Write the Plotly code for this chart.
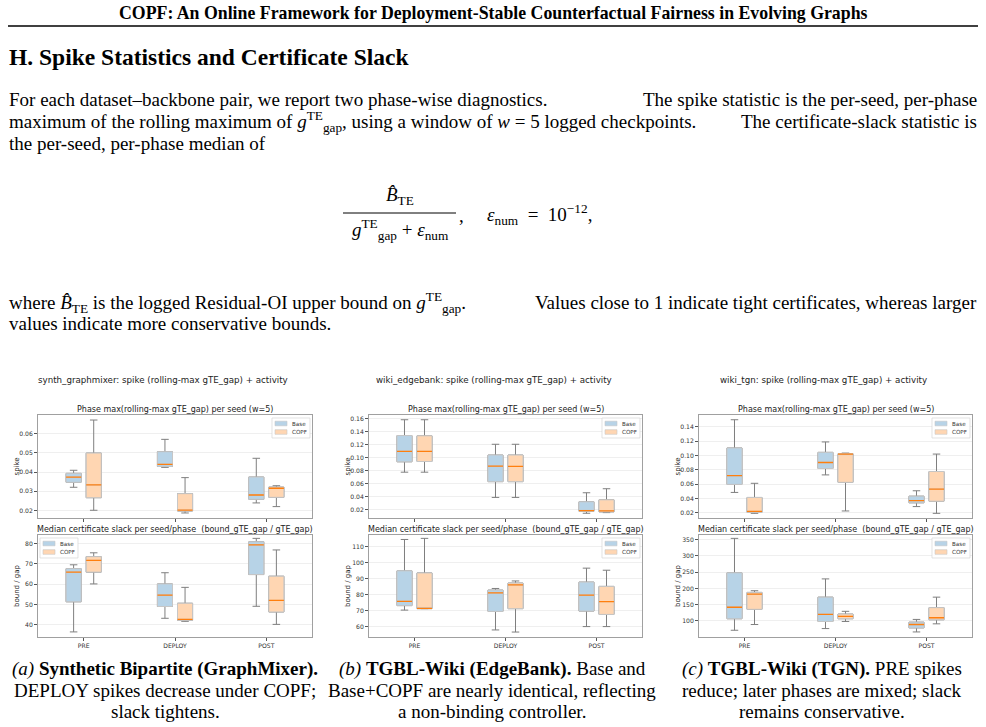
import plotly.graph_objects as go

W, H = 986, 727
SERIF = "Liberation Serif"
SANS = "DejaVu Sans"

# ---------------- data ----------------
PHASES = ["PRE", "DEPLOY", "POST"]
SERIES = ["Base", "COPF"]
PANEL_NAMES = ["synth_graphmixer", "wiki_edgebank", "wiki_tgn"]

# five-number summaries per phase: [low whisker, q1, median, q3, high whisker]
GM_SPIKE_BASE = [[0.0321, 0.0347, 0.0374, 0.0393, 0.0409],
                 [0.0424, 0.0429, 0.0440, 0.0505, 0.0569],
                 [0.0240, 0.0259, 0.0281, 0.0374, 0.0471]]
GM_SPIKE_COPF = [[0.0202, 0.0267, 0.0333, 0.0498, 0.0669],
                 [0.0188, 0.0198, 0.0203, 0.0288, 0.0371],
                 [0.0221, 0.0269, 0.0316, 0.0322, 0.0329]]
GM_SLACK_BASE = [[36.5, 51.3, 65.9, 67.6, 69.5],
                 [43.2, 49.0, 54.6, 60.1, 65.6],
                 [49.1, 64.7, 79.3, 80.8, 82.5]]
GM_SLACK_COPF = [[60.1, 65.9, 71.7, 73.5, 75.4],
                 [41.7, 42.2, 42.7, 50.6, 58.4],
                 [40.2, 46.3, 52.0, 63.9, 76.8]]

EB_SPIKE_BASE = [[0.0776, 0.0936, 0.1097, 0.1340, 0.1584],
                 [0.0387, 0.0630, 0.0869, 0.1040, 0.1206],
                 [0.0143, 0.0174, 0.0184, 0.0319, 0.0459]]
EB_SPIKE_COPF = [[0.0776, 0.0941, 0.1097, 0.1336, 0.1584],
                 [0.0387, 0.0630, 0.0864, 0.1040, 0.1206],
                 [0.0153, 0.0164, 0.0179, 0.0350, 0.0521]]
EB_SLACK_BASE = [[70.3, 73.1, 75.8, 94.8, 114.4],
                 [57.9, 69.5, 81.1, 82.8, 83.8],
                 [60.0, 69.7, 79.6, 87.8, 96.5]]
EB_SLACK_COPF = [[71.2, 71.2, 71.4, 93.5, 115.1],
                 [56.6, 71.2, 86.0, 87.2, 88.5],
                 [60.0, 67.6, 75.6, 85.1, 95.2]]

TG_SPIKE_BASE = [[0.0486, 0.0598, 0.0720, 0.1105, 0.1498],
                 [0.0730, 0.0819, 0.0903, 0.1044, 0.1189],
                 [0.0289, 0.0341, 0.0373, 0.0434, 0.0509]]
TG_SPIKE_COPF = [[0.0195, 0.0209, 0.0223, 0.0416, 0.0613],
                 [0.0228, 0.0627, 0.1020, 0.1025, 0.1034],
                 [0.0195, 0.0364, 0.0533, 0.0777, 0.1020]]
TG_SLACK_BASE = [[70.8, 106.3, 141.7, 247.9, 354.2],
                 [76.0, 97.9, 119.8, 172.9, 229.2],
                 [65.6, 78.1, 88.5, 95.8, 104.2]]
TG_SLACK_COPF = [[88.5, 135.4, 182.3, 187.5, 192.7],
                 [97.9, 106.3, 113.5, 120.8, 129.2],
                 [90.6, 103.1, 109.4, 140.6, 172.9]]

SPIKE_TICKS = [[0.02, 0.03, 0.04, 0.05, 0.06],
               [0.02, 0.04, 0.06, 0.08, 0.10, 0.12, 0.14, 0.16],
               [0.02, 0.04, 0.06, 0.08, 0.10, 0.12, 0.14]]
SLACK_TICKS = [[40, 50, 60, 70, 80],
               [60, 70, 80, 90, 100, 110],
               [100, 150, 200, 250, 300, 350]]
SPIKE_RANGE = [[0.0162, 0.0695], [0.0070, 0.1657], [0.0130, 0.1564]]
SLACK_RANGE = [[34.0, 84.15], [53.5, 117.2], [50.0, 364.6]]

SPIKE_DATA = [(GM_SPIKE_BASE, GM_SPIKE_COPF), (EB_SPIKE_BASE, EB_SPIKE_COPF), (TG_SPIKE_BASE, TG_SPIKE_COPF)]
SLACK_DATA = [(GM_SLACK_BASE, GM_SLACK_COPF), (EB_SLACK_BASE, EB_SLACK_COPF), (TG_SLACK_BASE, TG_SLACK_COPF)]

# ---------------- style ----------------
FILLS = {"Base": "#b7d3e7", "COPF": "#ffd6b2"}
EDGE = "#c7c7c7"
WHISK = "#7f7f7f"
MED = "#ff7f0e"
PANEL_X = [(38, 312), (369, 642), (699, 972)]
ROW_Y = [(415, 518), (535, 637)]


def px(x):
    return x / W


def py(y):
    return 1 - y / H


fig = go.Figure()
layout = dict(width=W, height=H, margin=dict(l=0, r=0, t=0, b=0),
              paper_bgcolor="white", plot_bgcolor="white", showlegend=False,
              boxmode="group", boxgap=0.56, boxgroupgap=0.25,
              annotations=[], shapes=[])
anns = layout["annotations"]
shapes = layout["shapes"]


def ann(text, x, y, size, xanchor="left", family=SERIF, color="black", angle=0, yanchor="middle"):
    anns.append(dict(text=text, x=px(x), y=py(y), xref="paper", yref="paper",
                     xanchor=xanchor, yanchor=yanchor, align=xanchor, showarrow=False,
                     textangle=angle, borderpad=0,
                     font=dict(size=size, family=family, color=color)))


def rect(x0, y0, x1, y1, fill, line, lw):
    shapes.append(dict(type="rect", xref="paper", yref="paper",
                       x0=px(x0), x1=px(x1), y0=py(y1), y1=py(y0),
                       fillcolor=fill, line=dict(color=line, width=lw), layer="above"))


n = 0
for p in range(3):
    x0, x1 = PANEL_X[p]
    for r in range(2):
        n += 1
        xa = "x" if n == 1 else f"x{n}"
        ya = "y" if n == 1 else f"y{n}"
        data = SPIKE_DATA[p] if r == 0 else SLACK_DATA[p]
        for s, name in enumerate(SERIES):
            stats = data[s]
            lo = [v[0] for v in stats]
            q1 = [v[1] for v in stats]
            med = [v[2] for v in stats]
            q3 = [v[3] for v in stats]
            hi = [v[4] for v in stats]
            common = dict(x=PHASES, xaxis=xa, yaxis=ya, offsetgroup=name, name=name,
                          alignmentgroup=f"g{n}", hoverinfo="skip", boxpoints=False,
                          showlegend=False)
            # whiskers + caps
            fig.add_trace(go.Box(lowerfence=lo, q1=q1, median=med, q3=q3, upperfence=hi,
                                 line=dict(color=WHISK, width=1), fillcolor=FILLS[name],
                                 whiskerwidth=0.5, **common))
            # box body with light edge
            fig.add_trace(go.Box(lowerfence=q1, q1=q1, median=med, q3=q3, upperfence=q3,
                                 line=dict(color=EDGE, width=1), fillcolor=FILLS[name],
                                 whiskerwidth=0, **common))
            # median line
            fig.add_trace(go.Box(lowerfence=med, q1=med, median=med, q3=med, upperfence=med,
                                 line=dict(color=MED, width=1.3), fillcolor="rgba(0,0,0,0)",
                                 whiskerwidth=0, **common))
        y0, y1 = ROW_Y[r]
        tickfont = dict(size=6.1, family=SANS, color="#333")
        layout["xaxis" if n == 1 else f"xaxis{n}"] = dict(
            domain=[px(x0), px(x1)], anchor=ya, type="category", range=[-0.5, 2.5],
            showticklabels=(r == 1), ticks="outside", ticklen=3, tickwidth=0.7, tickcolor="#555",
            showline=True, mirror=True, linecolor="#a0a0a0", linewidth=0.9,
            showgrid=False, zeroline=False, tickfont=tickfont)
        ticks = SPIKE_TICKS[p] if r == 0 else SLACK_TICKS[p]
        layout["yaxis" if n == 1 else f"yaxis{n}"] = dict(
            domain=[py(y1), py(y0)], anchor=xa,
            range=SPIKE_RANGE[p] if r == 0 else SLACK_RANGE[p],
            tickvals=ticks, tickformat=".2f" if r == 0 else "d",
            ticks="outside", ticklen=3, tickwidth=0.7, tickcolor="#555",
            showline=True, mirror=True, linecolor="#a0a0a0", linewidth=0.9,
            showgrid=True, gridcolor="#efefef", gridwidth=0.6, zeroline=False, tickfont=tickfont)
        # legend (matplotlib-style box drawn with shapes + text)
        left = (p == 0 and r == 1)
        lx0 = x0 + 2 if left else x1 - 40
        ly0 = y0 + 3
        rect(lx0, ly0, lx0 + 38, ly0 + 20, "rgba(255,255,255,0.85)", "#d5d5d5", 0.7)
        for k, name in enumerate(SERIES):
            cy = ly0 + 5.5 + 8.5 * k
            rect(lx0 + 3, cy - 2.3, lx0 + 15, cy + 2.3, FILLS[name], EDGE, 0.6)
            ann(name, lx0 + 19, cy, 5.6, family=SANS, color="#333")
        # subplot title
        title = ("Phase max(rolling-max gTE_gap) per seed (w=5)" if r == 0 else
                 "Median certificate slack per seed/phase  (bound_gTE_gap / gTE_gap)")
        ann(title, (x0 + x1) / 2, y0 - 6, 8.0, xanchor="center", family=SANS, color="#222")
        ann("spike" if r == 0 else "bound / gap", x0 - 21, (y0 + y1) / 2, 7.0,
            xanchor="center", family=SANS, color="#222", angle=-90)
    ann(f"{PANEL_NAMES[p]}: spike (rolling-max gTE_gap) + activity", (x0 + x1) / 2 - 12, 380, 8.7,
        xanchor="center", family=SANS, color="#222")

# ---------------- document text ----------------
ann("<b>COPF: An Online Framework for Deployment-Stable Counterfactual Fairness in Evolving Graphs</b>",
    493, 13, 17.8, xanchor="center")
shapes.append(dict(type="line", xref="paper", yref="paper", x0=px(8), x1=px(978),
                   y0=py(26), y1=py(26), line=dict(color="black", width=1.6)))
ann("<b>H. Spike Statistics and Certificate Slack</b>", 8, 57, 23.5)

BODY = 19
ann("For each dataset–backbone pair, we report two phase-wise diagnostics.", 8, 100, BODY)
ann("The spike statistic is the per-seed, per-phase", 978, 100, BODY, xanchor="right")
ann("maximum of the rolling maximum of <i>g</i><sup>TE</sup><sub>gap</sub>, using a window of <i>w</i> = 5 logged checkpoints.",
    8, 122, BODY)
ann("The certificate-slack statistic is", 978, 122, BODY, xanchor="right")
ann("the per-seed, per-phase median of", 8, 143, BODY)

# equation
ann("<i>B\u0302</i><sub>TE</sub>", 400, 196, BODY, xanchor="center")
shapes.append(dict(type="line", xref="paper", yref="paper", x0=px(343), x1=px(456),
                   y0=py(213), y1=py(213), line=dict(color="black", width=1)))
ann("<i>g</i><sup>TE</sup><sub>gap</sub> + <i>ε</i><sub>num</sub>", 400, 229, BODY, xanchor="center")
ann(",", 458, 216, BODY)
ann("<i>ε</i><sub>num</sub>\u2002=\u200210<sup>−12</sup>,", 486, 214, BODY)

ann("where <i>B\u0302</i><sub>TE</sub> is the logged Residual-OI upper bound on <i>g</i><sup>TE</sup><sub>gap</sub>.",
    8, 302, BODY)
ann("Values close to 1 indicate tight certificates, whereas larger", 978, 302, BODY, xanchor="right")
ann("values indicate more conservative bounds.", 8, 323, BODY)

# captions
CAPS = [["<i>(a)</i> <b>Synthetic Bipartite (GraphMixer).</b>",
         "DEPLOY spikes decrease under COPF;", "slack tightens."],
        ["<i>(b)</i> <b>TGBL-Wiki (EdgeBank).</b> Base and",
         "Base+COPF are nearly identical, reflecting", "a non-binding controller."],
        ["<i>(c)</i> <b>TGBL-Wiki (TGN).</b> PRE spikes",
         "reduce; later phases are mixed; slack", "remains conservative."]]
CAP_X = [165, 492, 822]
for cx, lines in zip(CAP_X, CAPS):
    for k, line in enumerate(lines):
        ann(line, cx, 669 + 21 * k, BODY, xanchor="center")

fig.update_layout(**layout)
fig.write_html("out.html", config={"displayModeBar": False},
               post_script="document.body.style.margin='0px';")
